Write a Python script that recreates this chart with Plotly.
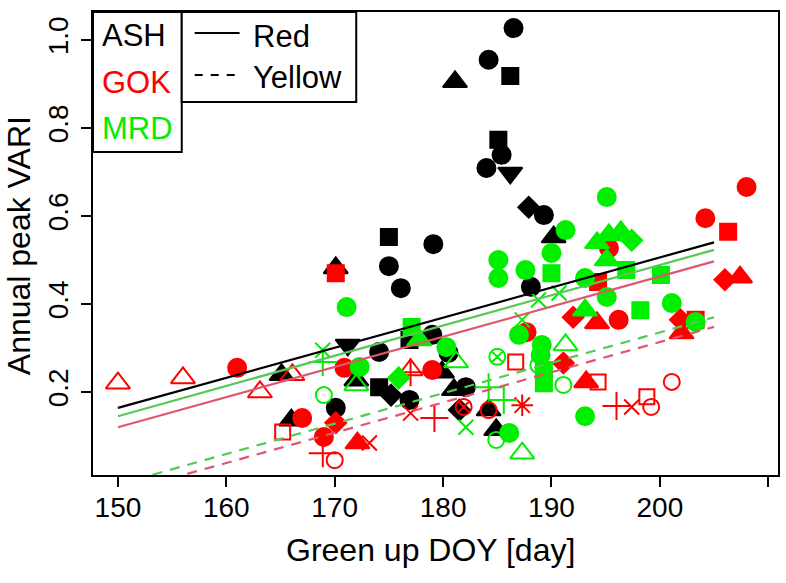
import plotly.graph_objects as go

# ---------------- data ----------------
# group code -> marker shape (filled = "Red" variety, open/line = "Yellow" variety)
SYMBOL = {
    "Rc": "circle", "Rs": "square", "Rt": "triangle-up", "Rv": "triangle-down", "Rd": "diamond",
    "Yo": "circle-open", "Ys": "square-open", "Yt": "triangle-up-open", "Yp": "cross-thin-open",
    "Yx": "x-thin-open", "Ya": "asterisk-open", "Yq": "circle-x-open",
}
SIZE = {
    "Rc": 18, "Rs": 16, "Rt": 21, "Rv": 21, "Rd": 16,
    "Yo": 16, "Ys": 15, "Yt": 21, "Yp": 20, "Yx": 15, "Ya": 18, "Yq": 16,
}

ash_doy = [186.5, 184.2, 186.2, 181.1, 185.1, 185.4, 184.0, 186.2, 187.9, 189.3, 190.2,
           175.0, 179.1, 175.0, 176.1, 188.1, 170.1, 165.1, 166.0, 171.2, 174.1, 170.1,
           172.0, 174.1, 175.2, 176.9, 176.9, 179.0, 180.5, 179.9, 181.0, 182.1, 181.5,
           184.2, 184.9]
ash_vari = [1.027, 0.955, 0.918, 0.905, 0.773, 0.739, 0.709, 0.698, 0.620, 0.602, 0.552,
            0.552, 0.536, 0.486, 0.436, 0.439, 0.482, 0.239, 0.136, 0.307, 0.291, 0.164,
            0.227, 0.211, 0.193, 0.182, 0.318, 0.330, 0.289, 0.245, 0.205, 0.211, 0.159,
            0.159, 0.114]
ash_grp = ["Rc", "Rc", "Rs", "Rt", "Rs", "Rc", "Rc", "Rv", "Rd", "Rc", "Rt",
           "Rs", "Rc", "Rc", "Rc", "Rc", "Rt", "Rt", "Rt", "Rv", "Rc", "Rc",
           "Rt", "Rs", "Rd", "Rc", "Rs", "Rc", "Rc", "Rt", "Rt", "Rc", "Rd",
           "Rt", "Rt"]

gok_doy = [161.0, 167.0, 169.0, 170.1, 172.1, 170.1, 170.9, 179.0, 187.7, 195.3, 194.3,
           192.0, 194.2, 196.2, 208.0, 204.2, 206.3, 206.0, 207.4, 203.3, 201.9, 202.0,
           191.1, 193.2,
           150.0, 156.0, 163.1, 166.1, 165.2, 168.9, 170.0, 173.2, 177.0, 177.0, 179.2,
           177.0, 181.9, 184.2, 186.7, 187.3, 194.3, 196.0, 197.4, 198.8, 199.2, 201.1]
gok_vari = [0.255, 0.141, 0.098, 0.130, 0.084, 0.470, 0.255, 0.250, 0.336, 0.527, 0.450,
            0.370, 0.357, 0.364, 0.666, 0.595, 0.564, 0.455, 0.461, 0.364, 0.364, 0.334,
            0.266, 0.223,
            0.220, 0.232, 0.200, 0.239, 0.109, 0.061, 0.045, 0.084, 0.250, 0.245, 0.141,
            0.152, 0.166, 0.159, 0.268, 0.170, 0.223, 0.168, 0.166, 0.189, 0.166, 0.223]
gok_grp = ["Rc", "Rc", "Rc", "Rd", "Rt", "Rs", "Rc", "Rc", "Rc", "Rc", "Rs",
           "Rd", "Rt", "Rc", "Rc", "Rc", "Rs", "Rd", "Rt", "Rs", "Rd", "Rt",
           "Rd", "Rt",
           "Yt", "Yt", "Yt", "Yt", "Ys", "Yp", "Yo", "Yx", "Yt", "Yp", "Yp",
           "Yx", "Yq", "Yo", "Ys", "Ya", "Ys", "Yp", "Yx", "Ys", "Yo", "Yo"]

mrd_doy = [171.1, 172.3, 177.1, 177.8, 180.3, 175.9, 186.1, 185.1, 185.1, 187.6, 191.3,
           190.0, 190.0, 194.2, 195.3, 196.4, 197.4, 195.1, 196.9, 200.1, 193.1, 195.1,
           193.1, 198.2, 201.1, 195.1, 203.3, 189.1, 193.1, 189.3, 189.0, 189.3, 187.0,
           169.0, 168.9, 168.9, 172.0, 181.2, 182.1, 184.9, 187.3, 184.2, 185.6, 185.0,
           187.3, 191.3, 191.1, 188.8, 190.7, 188.8]
mrd_vari = [0.393, 0.257, 0.348, 0.318, 0.302, 0.232, 0.107, 0.500, 0.459, 0.477, 0.568,
            0.516, 0.470, 0.539, 0.557, 0.564, 0.545, 0.500, 0.477, 0.466, 0.459, 0.416,
            0.386, 0.386, 0.402, 0.643, 0.359, 0.307, 0.145, 0.220, 0.284, 0.250, 0.330,
            0.193, 0.295, 0.268, 0.216, 0.268, 0.120, 0.091, 0.061, 0.211, 0.182, 0.280,
            0.364, 0.307, 0.216, 0.409, 0.425, 0.261]
mrd_grp = ["Rc", "Rc", "Rs", "Rt", "Rc", "Rd", "Rc", "Rc", "Rc", "Rc", "Rc",
           "Rc", "Rs", "Rt", "Rt", "Rt", "Rd", "Rt", "Rs", "Rs", "Rc", "Rc",
           "Rt", "Rs", "Rc", "Rc", "Rc", "Rc", "Rc", "Rs", "Rc", "Rs", "Rc",
           "Yo", "Yx", "Yp", "Yt", "Yt", "Yx", "Yo", "Yt", "Yp", "Yp", "Yq",
           "Yx", "Yt", "Yo", "Yx", "Yx", "Yo"]

# fitted lines: VARI at DOY 150 and 205
fit_doy = [150, 205]
ash_red_fit = [0.164, 0.540]
mrd_red_fit = [0.145, 0.523]
gok_red_fit = [0.120, 0.497]
mrd_yel_fit = [-0.010, 0.370]
gok_yel_fit = [-0.030, 0.348]

sites = ["ASH", "GOK", "MRD"]
x_ticks = [150, 160, 170, 180, 190, 200, 210]
y_ticks = [0.2, 0.4, 0.6, 0.8, 1.0]

# ---------------- styling ----------------
COL = {"ASH": "#000000", "GOK": "#FF0000", "MRD": "#00EE00"}
LINECOL = {"ASH": "#000000", "GOK": "#E0566E", "MRD": "#55C855"}
FONT = "Liberation Sans, Arial, sans-serif"
FS_TICK = 28
FS_TITLE = 32
FS_LEG = 31

fig = go.Figure()
for site, xs, ys, gs in [("ASH", ash_doy, ash_vari, ash_grp),
                         ("GOK", gok_doy, gok_vari, gok_grp),
                         ("MRD", mrd_doy, mrd_vari, mrd_grp)]:
    fig.add_trace(go.Scatter(
        x=xs, y=ys, mode="markers", showlegend=False, cliponaxis=True,
        marker=dict(symbol=[SYMBOL[g] for g in gs], size=[SIZE[g] for g in gs], opacity=1,
                    color=COL[site], line=dict(color=COL[site], width=2)),
    ))

for site, ys, dash in [("ASH", ash_red_fit, "solid"), ("MRD", mrd_red_fit, "solid"),
                       ("GOK", gok_red_fit, "solid"), ("MRD", mrd_yel_fit, "10px,8px"),
                       ("GOK", gok_yel_fit, "10px,8px")]:
    fig.add_trace(go.Scatter(x=fit_doy, y=ys, mode="lines", showlegend=False,
                             line=dict(color=LINECOL[site], width=2.2, dash=dash)))

# plot area in pixels
L, R, T, B = 93, 780, 12, 475
W, H = 786, 583


def px(xp):
    return (xp - L) / (R - L)


def py(yp):
    return (B - yp) / (B - T)


shapes = [
    dict(type="rect", xref="paper", yref="paper", x0=px(93), x1=px(182), y0=py(152), y1=py(12),
         line=dict(color="black", width=2), fillcolor="white", layer="above"),
    dict(type="rect", xref="paper", yref="paper", x0=px(182), x1=px(357), y0=py(102), y1=py(12),
         line=dict(color="black", width=2), fillcolor="white", layer="above"),
    dict(type="line", xref="paper", yref="paper", x0=px(195), x1=px(240), y0=py(33), y1=py(33),
         line=dict(color="black", width=2), layer="above"),
    dict(type="line", xref="paper", yref="paper", x0=px(195), x1=px(240), y0=py(75), y1=py(75),
         line=dict(color="black", width=2, dash="8px,8px"), layer="above"),
]

ann = []
for name, yy in zip(sites, [36, 82, 128]):
    ann.append(dict(text=name, xref="paper", yref="paper", x=px(100), y=py(yy), xanchor="left",
                    yanchor="middle", showarrow=False, font=dict(family=FONT, size=FS_LEG, color=COL[name])))
for name, yy in zip(["Red", "Yellow"], [37, 78]):
    ann.append(dict(text=name, xref="paper", yref="paper", x=px(251), y=py(yy), xanchor="left",
                    yanchor="middle", showarrow=False, font=dict(family=FONT, size=FS_LEG, color="black")))
ann.append(dict(text="Green up DOY [day]", xref="paper", yref="paper", x=px(431), y=py(550),
                xanchor="center", yanchor="middle", showarrow=False,
                font=dict(family=FONT, size=FS_TITLE, color="black")))
ann.append(dict(text="Annual peak VARI", xref="paper", yref="paper", x=px(19), y=py(246),
                xanchor="center", yanchor="middle", textangle=-90, showarrow=False,
                font=dict(family=FONT, size=FS_TITLE, color="black")))

fig.update_layout(
    width=W, height=H, margin=dict(l=L, r=W - R, t=T, b=H - B),
    paper_bgcolor="white", plot_bgcolor="white",
    shapes=shapes, annotations=ann, showlegend=False,
    font=dict(family=FONT, size=FS_TICK, color="black"),
    xaxis=dict(range=[147.7, 210.9], tickvals=x_ticks, ticks="outside", ticklen=10, tickwidth=2,
               tickcolor="black", showline=True, linewidth=2, linecolor="black", mirror=True,
               showgrid=False, zeroline=False, ticklabelstandoff=-4,
               tickfont=dict(family=FONT, size=FS_TICK)),
    yaxis=dict(range=[0.0114, 1.0636], tickvals=y_ticks, ticktext=["0.2", "0.4", "0.6", "0.8", "1.0"],
               ticks="outside", ticklen=10, tickwidth=2, tickangle=-90, ticklabelstandoff=2,
               tickcolor="black", showline=True, linewidth=2, linecolor="black", mirror=True,
               showgrid=False, zeroline=False, tickfont=dict(family=FONT, size=FS_TICK)),
)

fig.write_html("out.html")
